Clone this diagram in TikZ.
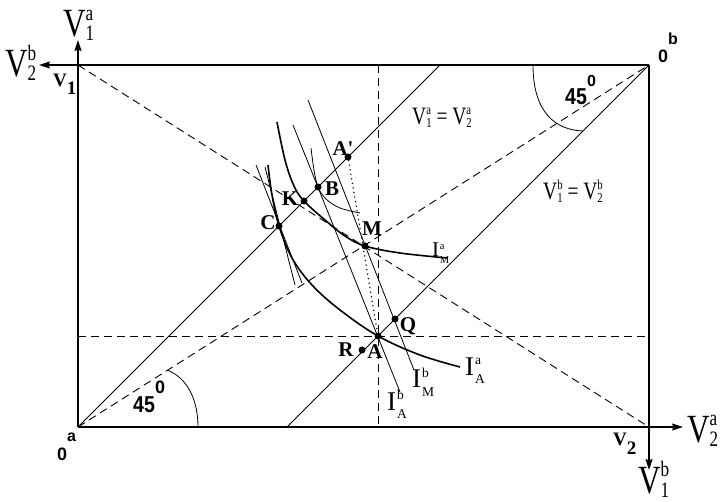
\documentclass[tikz,border=0pt]{standalone}
\usepackage{fontspec}
\usepackage{graphicx}
\setmainfont{Liberation Serif}
\newfontfamily\sansbf{Liberation Sans}
\usetikzlibrary{arrows.meta}
\newcommand{\VS}[3]{#1\rlap{\raisebox{0.42em}{\scalebox{0.55}{#3}}}\raisebox{-0.1em}{\scalebox{0.55}{#2}}}
\newcommand{\IS}[3]{#1\kern0.03em\rlap{\raisebox{0.38em}{\scalebox{0.5}{#3}}}\raisebox{-0.3em}{\scalebox{0.5}{#2}}}
\newcommand{\sqz}[1]{\scalebox{0.78}[1]{#1}}
\begin{document}
\begin{tikzpicture}[x=1pt,y=-1pt,
  axis/.style={line width=1.2pt,-{Stealth[length=11pt,width=7pt,inset=1.5pt]}},
  thinline/.style={line width=0.8pt},
  thickcurve/.style={line width=1.6pt},
  dashline/.style={line width=0.9pt,dash pattern=on 8pt off 5pt},
  dotline/.style={line width=1.5pt,dash pattern=on 0.1pt off 4.5pt,line cap=round},
  dotpt/.style={circle,fill=black,inner sep=0pt,minimum size=7pt},
  plab/.style={inner sep=0pt,font=\fontsize{21}{21}\selectfont\bfseries},
  biglab/.style={inner sep=0pt,anchor=base west,font=\fontsize{40}{40}\selectfont},
  ilab/.style={inner sep=0pt,anchor=base west,font=\fontsize{27}{27}\selectfont},
  eqlab/.style={inner sep=0pt,anchor=base west,font=\fontsize{25}{25}\selectfont},
  olab/.style={inner sep=0pt,anchor=base west,font=\fontsize{18}{18}\selectfont\sansbf\bfseries},
  vlab/.style={inner sep=0pt,anchor=base west,font=\fontsize{19}{19}\selectfont\bfseries},
  anglab/.style={inner sep=0pt,anchor=base west,font=\fontsize{23}{23}\selectfont\sansbf\bfseries}
]
\useasboundingbox (0,0) rectangle (720,502);
% frame corners and axis ends
\coordinate (Oa) at (78,427);
\coordinate (Ob) at (649,65);
\coordinate (TL) at (78,65);
\coordinate (BR) at (649,427);
\coordinate (Vup) at (78,40);
\coordinate (Vleft) at (39,65);
\coordinate (Vright) at (683,427);
\coordinate (Vdown) at (649,470);
% dashed guides
\coordinate (vTop) at (378,65);
\coordinate (vBot) at (378,427);
\coordinate (hL) at (78,336);
\coordinate (hR) at (649,336);
% 45 degree lines
\coordinate (aTop) at (440,65);
\coordinate (bBot) at (287,427);
% straight indifference lines of b
\coordinate (IAbT) at (293,125);
\coordinate (IAbB) at (400,392);
\coordinate (IMbT) at (308,100);
\coordinate (IMbB) at (414,370);
% lines crossing at C
\coordinate (c1T) at (256,165);
\coordinate (c1B) at (302,283);
\coordinate (c2T) at (265,167);
\coordinate (c2B) at (295,285);

% axes
\draw[axis] (Oa) -- (Vup);
\draw[axis] (Ob) -- (Vleft);
\draw[axis] (Oa) -- (Vright);
\draw[axis] (Ob) -- (Vdown);

% dashed lines
\draw[dashline] (TL) -- (BR);
\draw[dashline] (Oa) -- (Ob);
\draw[dashline] (vTop) -- (vBot);
\draw[dashline] (hL) -- (hR);

% 45 degree solid lines
\draw[thinline] (Oa) -- (aTop);
\draw[thinline] (Ob) -- (bBot);

% angle arcs
\draw[thinline] (198,427) .. controls (198,398) and (186,377) .. (167,370);
\draw[thinline] (533,65) .. controls (533,112) and (555,130) .. (583,131);

% b's straight lines
\draw[thinline] (IAbT) -- (IAbB);
\draw[thinline] (IMbT) -- (IMbB);
\draw[thinline] (c1T) -- (c1B);
\draw[thinline] (c2T) -- (c2B);

% curves of a
\draw[thickcurve] plot[smooth,tension=0.6] coordinates {(277,122) (285,160) (294,186) (304,201) (325,220) (345,236) (365,246) (400,253) (447,258)};
\draw[thickcurve] plot[smooth,tension=0.6] coordinates {(268,165) (272,195) (279,226) (292,258) (312,285) (340,310) (378,336) (420,355) (460,367)};
\draw[thinline] plot[smooth,tension=0.6] coordinates {(311,148) (314,170) (318,187) (326,199) (340,208) (360,213)};

% points
\node[dotpt] (A) at (378,336) {};
\node[dotpt] (Q) at (395,319) {};
\node[dotpt] (R) at (362,350) {};
\node[dotpt] (M) at (365,246) {};
\node[dotpt] (C) at (279,226) {};
\node[dotpt] (K) at (304,201) {};
\node[dotpt] (B) at (318,187) {};
\node[dotpt] (Ap) at (348,157) {};
\draw[dotline] (Ap) -- (A);

% point labels
\node[plab] (lA) at (375,352) {A};
\node[plab] (lQ) at (408,326) {Q};
\node[plab] (lR) at (346,350) {R};
\node[plab] (lM) at (372,229) {M};
\node[plab] (lC) at (268,223) {C};
\node[plab] (lK) at (290,199) {K};
\node[plab] (lB) at (332,189) {B};
\node[plab] (lAp) at (343,149) {A\textquotesingle};

% axis labels
\node[biglab] (lV1a) at (63,37) {\sqz{\VS{V}{1}{a}}};
\node[biglab] (lV2b) at (5,77) {\sqz{\VS{V}{2}{b}}};
\node[biglab] (lV2a) at (687,442) {\sqz{\VS{V}{2}{a}}};
\node[biglab] (lV1b) at (638,493) {\sqz{\VS{V}{1}{b}}};
\node[vlab] (lv1) at (53,87) {V\raisebox{-8pt}{1}};
\node[vlab] (lv2) at (613,445) {V\raisebox{-9pt}{2}};
\node[olab] (lOb) at (658,63) {0\raisebox{18pt}{\fontsize{16}{16}\selectfont b}};
\node[olab] (lOa) at (57,460) {0\raisebox{19pt}{\fontsize{16}{16}\selectfont a}};

% angle labels
\node[anglab] (ang1) at (133,412) {\scalebox{0.85}[1]{45}};
\node[olab] (ang1s) at (155,393) {0};
\node[anglab] (ang2) at (565,105) {\scalebox{0.85}[1]{45}};
\node[olab,font=\fontsize{16}{16}\selectfont\sansbf\bfseries] (ang2s) at (587,87) {0};

% curve labels
\node[ilab] (lIAa) at (465,375) {\IS{I}{A}{a}};
\node[ilab] (lIMb) at (412,388) {\IS{I}{M}{b}};
\node[ilab] (lIAb) at (387,410) {\IS{I}{A}{b}};
\node[ilab,font=\fontsize{21}{21}\selectfont] (lIMa) at (432,257) {\IS{I}{M}{a}};
\node[eqlab] (eqa) at (412,125) {\sqz{\VS{V}{1}{a} = \VS{V}{2}{a}}};
\node[eqlab] (eqb) at (543,200) {\sqz{\VS{V}{1}{b} = \VS{V}{2}{b}}};
\end{tikzpicture}
\end{document}
